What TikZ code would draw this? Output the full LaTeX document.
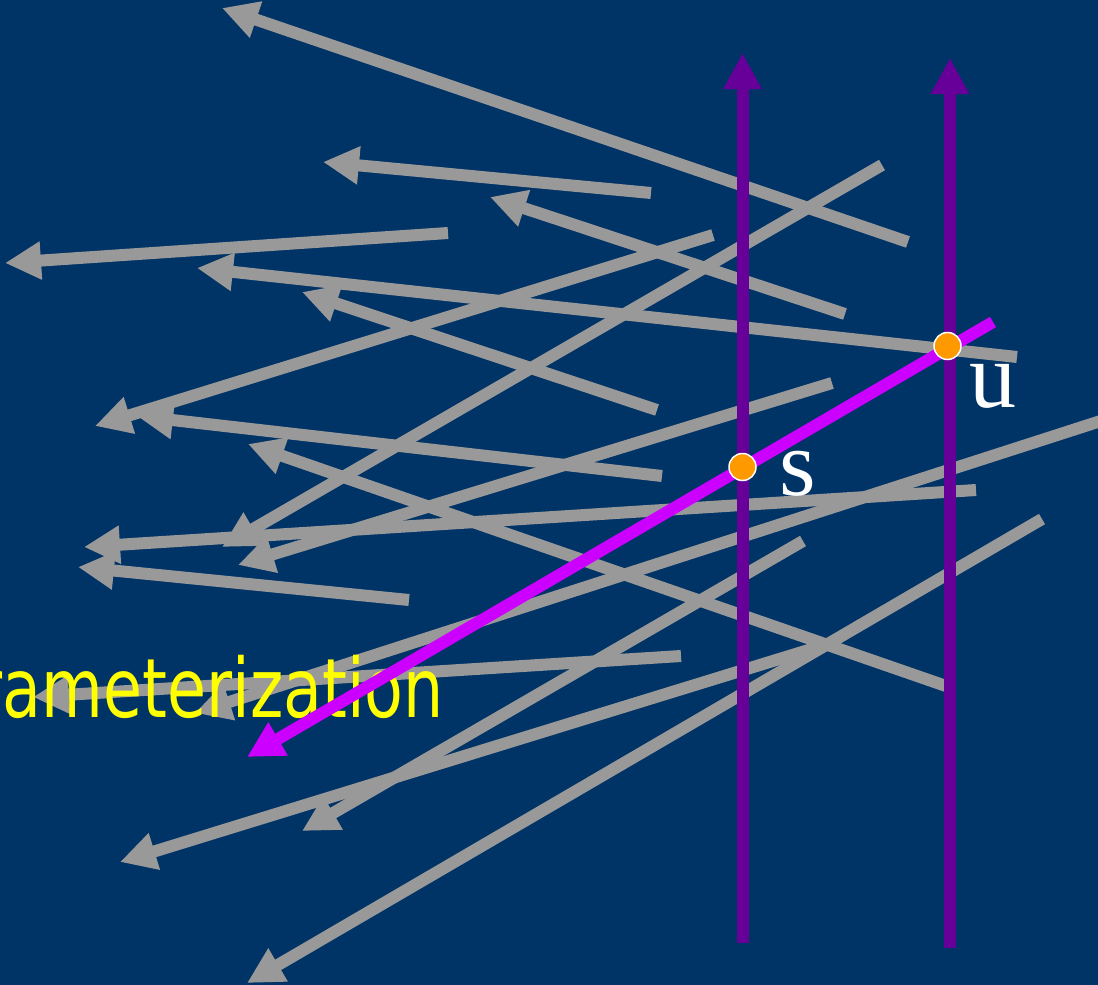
\documentclass[tikz,border=0pt]{standalone}
\usepackage{graphicx}
\usepackage{fontspec}
\newfontfamily\labfont{Liberation Serif}
\newfontfamily\capfont{DejaVu Sans Condensed}
\usetikzlibrary{arrows.meta}
\definecolor{bgblue}{RGB}{0,51,102}
\definecolor{raygray}{RGB}{153,153,153}
\definecolor{axispurple}{RGB}{102,0,153}
\definecolor{magline}{RGB}{204,0,255}
\definecolor{dotorange}{RGB}{255,153,0}
\definecolor{capyellow}{RGB}{255,255,0}
\begin{document}
\begin{tikzpicture}[x=1pt,y=-1pt,
  rayarrow/.style={draw=raygray,line width=12pt,-{Triangle[length=36pt,width=36pt]}},
  axisarrow/.style={draw=axispurple,line width=12pt,-{Triangle[length=36pt,width=36pt]}},
  magarrow/.style={draw=magline,line width=12pt,-{Triangle[length=36pt,width=36pt]}},
  hitdot/.style={circle,fill=dotorange,draw=white,line width=1.5pt,minimum size=27pt,inner sep=0pt},
  letterlab/.style={text=white,inner sep=0pt,anchor=base,font=\labfont\fontsize{94}{94}\selectfont},
  caption/.style={text=capyellow,inner sep=0pt,anchor=base east,font=\capfont\fontsize{82}{82}\selectfont}]
\useasboundingbox (0,0) rectangle (1098,985);
\clip (0,0) rectangle (1098,985);
\fill[bgblue] (0,0) rectangle (1098,985);
% ray end points (tail t, head h)
\coordinate (r1t) at (908,242);  \coordinate (r1h) at (222,8);
\coordinate (r2t) at (651,193);  \coordinate (r2h) at (323,162);
\coordinate (r3t) at (845,314);  \coordinate (r3h) at (490,197);
\coordinate (r4t) at (448,233);  \coordinate (r4h) at (5,263);
\coordinate (r5t) at (1017,357); \coordinate (r5h) at (197,268);
\coordinate (r6t) at (657,410);  \coordinate (r6h) at (302,292);
\coordinate (r7t) at (713,235);  \coordinate (r7h) at (95,426);
\coordinate (r8t) at (662,476);  \coordinate (r8h) at (137,416);
\coordinate (r9t) at (882,165);  \coordinate (r9h) at (222,547);
\coordinate (r10t) at (976,490); \coordinate (r10h) at (84,547);
\coordinate (r11t) at (832,383); \coordinate (r11h) at (238,565);
\coordinate (r12t) at (409,600); \coordinate (r12h) at (78,567);
\coordinate (r13t) at (946,686); \coordinate (r13h) at (248,444);
\coordinate (r14t) at (1110,418);\coordinate (r14h) at (195,713);
\coordinate (r15t) at (681,656); \coordinate (r15h) at (33,697);
\coordinate (r16t) at (803,541); \coordinate (r16h) at (302,831);
\coordinate (r17t) at (1042,519);\coordinate (r17h) at (247,983);
\coordinate (r18t) at (828,644); \coordinate (r18h) at (120,862);
\foreach \i in {1,...,18} {\draw[rayarrow] (r\i t) -- (r\i h);}
% caption (its first letter is cut by the left edge, as in the reference)
\node[caption] (cap) at (444,717) {\scalebox{0.86}[1]{rameterization}};
% axes
\coordinate (a1b) at (742.5,943); \coordinate (a1t) at (742.5,53);
\coordinate (a2b) at (950,948);   \coordinate (a2t) at (950,58);
\draw[axisarrow] (a1b) -- (a1t);
\draw[axisarrow] (a2b) -- (a2t);
% magenta ray
\coordinate (m0) at (993,322); \coordinate (m1) at (247,757);
\draw[magarrow] (m0) -- (m1);
% hit points
\node[hitdot] (ds) at (742.5,467) {};
\node[hitdot] (du) at (947.5,346) {};
\node[letterlab] (ls) at (798,495) {s};
\node[letterlab] (lu) at (992.5,407) {u};
\end{tikzpicture}
\end{document}
